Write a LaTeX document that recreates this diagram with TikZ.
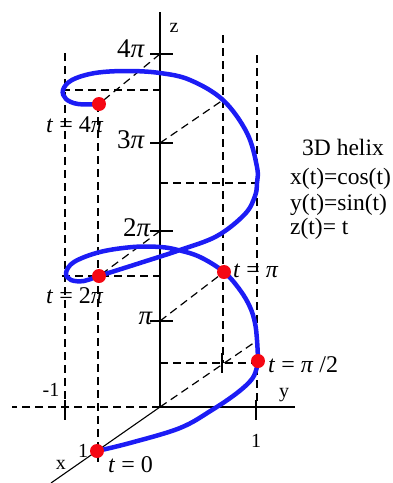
\documentclass[tikz,border=0pt]{standalone}
\usepackage{fontspec}
\setmainfont{Liberation Serif}
\definecolor{helixblue}{RGB}{28,28,245}
\definecolor{dotred}{RGB}{245,8,20}
\begin{document}
\begin{tikzpicture}[x=1pt,y=-1pt,
  axis/.style={line width=1.3pt},
  dsh/.style={line width=1.2pt, dash pattern=on 8pt off 5pt},
  tck/.style={line width=1.3pt},
  helix/.style={line width=4.5pt, draw=helixblue, line cap=round, line join=round},
  dot/.style={circle, fill=dotred, inner sep=0pt, minimum size=14pt},
  lbl/.style={inner sep=0pt, font=\fontsize{20}{24}\selectfont},
  pil/.style={inner sep=0pt, font=\fontsize{27}{32}\selectfont},
  tl/.style={inner sep=0pt, font=\fontsize{24}{28}\selectfont},
  txt/.style={inner sep=0pt, font=\fontsize{23.5}{28}\selectfont},
]
\useasboundingbox (0,0) rectangle (392,483);
% key coordinates
\coordinate (O) at (160,407);
\coordinate (ztop) at (160,12);
\coordinate (yend) at (295,407);
\coordinate (xend) at (51,483);
\coordinate (Z1) at (160,321);
\coordinate (Z2) at (160,231);
\coordinate (Z3) at (160,143);
\coordinate (Z4) at (160,54);
\coordinate (P0) at (97,451);
\coordinate (P1) at (258,361);
\coordinate (P2) at (224,272);
\coordinate (P4) at (99,276);
\coordinate (P8) at (99,104);
\coordinate (X3) at (223,100);
% dashed guide lines
\draw[dsh] (O) -- (12,407);
\draw[dsh] (O) -- (258,340);
\draw[dsh] (160,363) -- (258,363);
\draw[dsh] (Z1) -- (P2);
\draw[dsh] (Z2) -- (P4);
\draw[dsh] (Z3) -- (X3);
\draw[dsh] (Z4) -- (P8);
\draw[dsh] (62,276) -- (160,276);
\draw[dsh] (62,90) -- (160,90);
\draw[dsh] (160,183) -- (262,183);
\draw[dsh] (65,53) -- (65,407);
\draw[dsh] (98,104) -- (98,462);
\draw[dsh] (223,35) -- (223,363);
\draw[dsh] (257,55) -- (257,407);
% axes
\draw[axis] (O) -- (ztop);
\draw[axis] (O) -- (yend);
\draw[line width=1.1pt] (O) -- (xend);
% ticks
\foreach \yy in {321,231,143,54} \draw[tck] (150,\yy) -- (173,\yy);
\draw[tck] (65,400) -- (65,420);
\draw[tck] (256,400) -- (256,420);
\draw[tck] (222,353) -- (222,373);
% helix
\draw[helix] plot[smooth, tension=0.6] coordinates {
 (97,451) (130,443) (180,428) (212,410) (237,393) (252,379) (257,367) (258,361)
 (257,340) (255,323) (250,307) (240,290) (224,272) (200,257) (178,250) (160,247)
 (133,247) (100,252) (74,262) (66,273) (71,280) (84,281) (99,276) (140,263)
 (180,250) (217,236) (245,214) (255,196) (257,183) (257,167) (247,133) (223,100)
 (190,80) (160,73) (127,71) (95,73) (72,80) (63,90) (66,99) (78,104) (99,104)};
% points
\node[dot] (d0) at (P0) {};
\node[dot] (d1) at (P1) {};
\node[dot] (d2) at (P2) {};
\node[dot] (d4) at (P4) {};
\node[dot] (d8) at (P8) {};
% axis labels
\node[lbl] (lz) at (174,28) {z};
\node[lbl] (ly) at (284,395) {y};
\node[lbl] (lx) at (61,465) {x};
\node[lbl, anchor=base] (l1y) at (256,447) {1};
\node[lbl, anchor=base] (l1x) at (83,457) {1};
\node[lbl, anchor=base] (lm1) at (51,396) {-1};
\node[pil, anchor=base east] (l4p) at (145,57) {4\textit{π}};
\node[pil, anchor=base east] (l3p) at (145,148) {3\textit{π}};
\node[pil, anchor=base east] (l2p) at (151,236) {2\textit{π}};
\node[pil, anchor=base east] (l1p) at (153,324) {\textit{π}};
% point labels
\node[tl, anchor=base west] (t0) at (108,472) {\textit{t} = 0};
\node[tl, anchor=base west] (t1) at (268,372) {\textit{t} = \textit{π} /2};
\node[tl, anchor=base west] (t2) at (233,277) {\textit{t} = \textit{π}};
\node[tl, anchor=base west] (t4) at (46,303) {\textit{t} = 2\textit{π}};
\node[tl, anchor=base west] (t8) at (46,132) {\textit{t} = 4\textit{π}};
% description
\node[txt, anchor=base] (h0) at (343,155) {3D helix};
\node[txt, anchor=base west] (h1) at (290,184) {x(t)=cos(t)};
\node[txt, anchor=base west] (h2) at (290,210) {y(t)=sin(t)};
\node[txt, anchor=base west] (h3) at (290,234) {z(t)= t};
\end{tikzpicture}
\end{document}
